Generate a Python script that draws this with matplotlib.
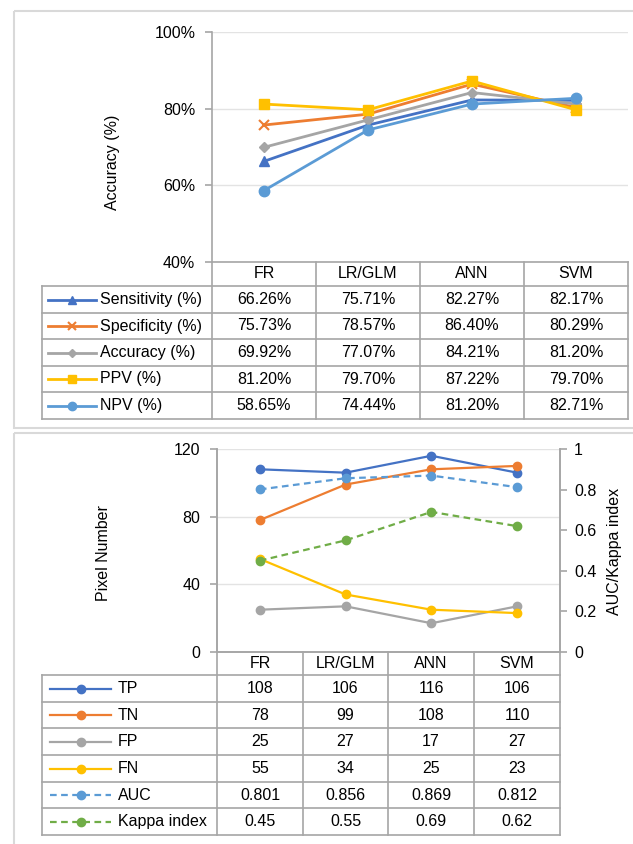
import matplotlib.pyplot as plt
from matplotlib.patches import Rectangle

W, H = 633, 844
plt.rcParams['font.family'] = ['Liberation Sans', 'DejaVu Sans']
plt.rcParams['font.size'] = 11.5

# data
models = ['FR', 'LR/GLM', 'ANN', 'SVM']

sensitivity = [66.26, 75.71, 82.27, 82.17]
specificity = [75.73, 78.57, 86.40, 80.29]
accuracy = [69.92, 77.07, 84.21, 81.20]
ppv = [81.20, 79.70, 87.22, 79.70]
npv = [58.65, 74.44, 81.20, 82.71]
top_names = ['Sensitivity (%)', 'Specificity (%)', 'Accuracy (%)', 'PPV (%)', 'NPV (%)']

tp = [108, 106, 116, 106]
tn = [78, 99, 108, 110]
fp = [25, 27, 17, 27]
fn = [55, 34, 25, 23]
auc = [0.801, 0.856, 0.869, 0.812]
kappa = [0.45, 0.55, 0.69, 0.62]
bottom_names = ['TP', 'TN', 'FP', 'FN', 'AUC', 'Kappa index']

# styles (Excel palette)
blue, orange, gray, yellow, lblue, green = '#4472C4', '#ED7D31', '#A5A5A5', '#FFC000', '#5B9BD5', '#70AD47'
top_styles = [
    dict(color=blue, marker='^', ms=7.5),
    dict(color=orange, marker='x', ms=7, mew=1.5),
    dict(color=gray, marker='D', ms=5.5),
    dict(color=yellow, marker='s', ms=6.5),
    dict(color=lblue, marker='o', ms=7.5),
]
bot_styles = [
    dict(color=blue, marker='o', ms=6),
    dict(color=orange, marker='o', ms=6),
    dict(color=gray, marker='o', ms=6),
    dict(color=yellow, marker='o', ms=6),
    dict(color=lblue, marker='o', ms=6, ls=(0, (3, 2))),
    dict(color=green, marker='o', ms=6, ls=(0, (3, 2))),
]
line_gray = '#A6A6A6'
grid_gray = '#E3E3E3'


def rect(x0, y0, x1, y1):
    # pixel box -> figure fraction
    return [x0 / W, 1 - y1 / H, (x1 - x0) / W, (y1 - y0) / H]


fig = plt.figure(figsize=(W / 100, H / 100), dpi=100)

# background layer in pixel coordinates for frames and tables
bg = fig.add_axes([0, 0, 1, 1])
bg.set_xlim(0, W)
bg.set_ylim(H, 0)
bg.axis('off')
bg.add_patch(Rectangle((14, 11), 660, 417, fill=False, ec='#D9D9D9', lw=1.5))
bg.add_patch(Rectangle((14, 433), 660, 430, fill=False, ec='#D9D9D9', lw=1.5))


def draw_table(x_leg, xs, ys, names, styles, rows, fmt, leg_x):
    for i in range(len(xs)):
        bg.plot([xs[i], xs[i]], [ys[0], ys[-1]], color=line_gray, lw=1.2)
    for y in ys[1:]:
        bg.plot([x_leg, xs[-1]], [y, y], color=line_gray, lw=1.2)
    bg.plot([x_leg, x_leg], [ys[1], ys[-1]], color=line_gray, lw=1.2)
    for j, m in enumerate(models):
        bg.text((xs[j] + xs[j + 1]) / 2, (ys[0] + ys[1]) / 2, m, ha='center', va='center')
    l0, lm, l1, tx = leg_x
    for i, (name, st, vals) in enumerate(zip(names, styles, rows)):
        yc = (ys[i + 1] + ys[i + 2]) / 2
        st = dict(st)
        mk, ms, mew = st.pop('marker'), st.pop('ms'), st.pop('mew', 1)
        lw = st.pop('lw', 2)
        bg.plot([l0, l1], [yc, yc], lw=lw, **st)
        bg.plot([lm], [yc], marker=mk, ms=ms, mew=mew, color=st['color'], ls='none')
        bg.text(tx, yc, name, ha='left', va='center')
        for j, v in enumerate(vals):
            bg.text((xs[j] + xs[j + 1]) / 2, yc, fmt(i, v), ha='center', va='center')


def style_axis(ax):
    ax.set_xlim(-0.5, len(models) - 0.5)
    ax.set_xticks([])
    for s in ax.spines.values():
        s.set_color(line_gray)
        s.set_linewidth(1.2)
    ax.tick_params(axis='y', color=line_gray, length=5, width=1.2, pad=7)
    ax.set_facecolor('none')


# ---- top chart ----
ax = fig.add_axes(rect(212, 32, 628, 262))
top_rows = [sensitivity, specificity, accuracy, ppv, npv]
for vals, st in zip(top_rows, top_styles):
    ax.plot(range(len(models)), vals, lw=2, **st)
style_axis(ax)
ax.spines['top'].set_visible(False)
ax.spines['right'].set_visible(False)
ax.set_ylim(40, 100)
ax.set_yticks([40, 60, 80, 100])
ax.set_yticklabels(['40%', '60%', '80%', '100%'])
ax.grid(axis='y', color=grid_gray, lw=1)
ax.set_axisbelow(True)
fig.text(113 / W, 1 - 162 / H, 'Accuracy (%)', rotation=90, ha='center', va='center')

top_ys = [262, 286, 313, 339, 366, 392, 419]
draw_table(42, [212, 316, 420, 524, 628], top_ys, top_names,
           [dict(s, lw=2, ms=s['ms'] * 0.8) for s in top_styles], top_rows,
           lambda i, v: f'{v:.2f}%', (48, 72, 96, 100))

# ---- bottom chart ----
ax = fig.add_axes(rect(217, 449, 560, 652))
counts = [tp, tn, fp, fn]
for vals, st in zip(counts, bot_styles[:4]):
    ax.plot(range(len(models)), vals, lw=1.6, **st)
style_axis(ax)
ax.spines['top'].set_visible(False)
ax.set_ylim(0, 120)
ax.set_yticks([0, 40, 80, 120])
ax.grid(axis='y', color=grid_gray, lw=1)
ax.set_axisbelow(True)

ax2 = ax.twinx()
for vals, st in zip([auc, kappa], bot_styles[4:]):
    ax2.plot(range(len(models)), vals, lw=1.6, **st)
style_axis(ax2)
ax2.spines['top'].set_visible(False)
ax2.set_ylim(0, 1)
ax2.set_yticks([0, 0.2, 0.4, 0.6, 0.8, 1])
ax2.set_yticklabels(['0', '0.2', '0.4', '0.6', '0.8', '1'])
ax2.tick_params(axis='y', pad=5)

fig.text(103 / W, 1 - 553 / H, 'Pixel Number', rotation=90, ha='center', va='center')
fig.text(614 / W, 1 - 551 / H, 'AUC/Kappa index', rotation=90, ha='center', va='center')

bot_ys = [652, 675, 702, 728, 755, 782, 808, 835]
draw_table(42, [217, 303, 388, 474, 560], bot_ys, bottom_names,
           [dict(s, lw=1.6, ms=6) for s in bot_styles], counts + [auc, kappa],
           lambda i, v: str(v), (50, 81, 111, 118))

fig.savefig('out.png', dpi=100)
